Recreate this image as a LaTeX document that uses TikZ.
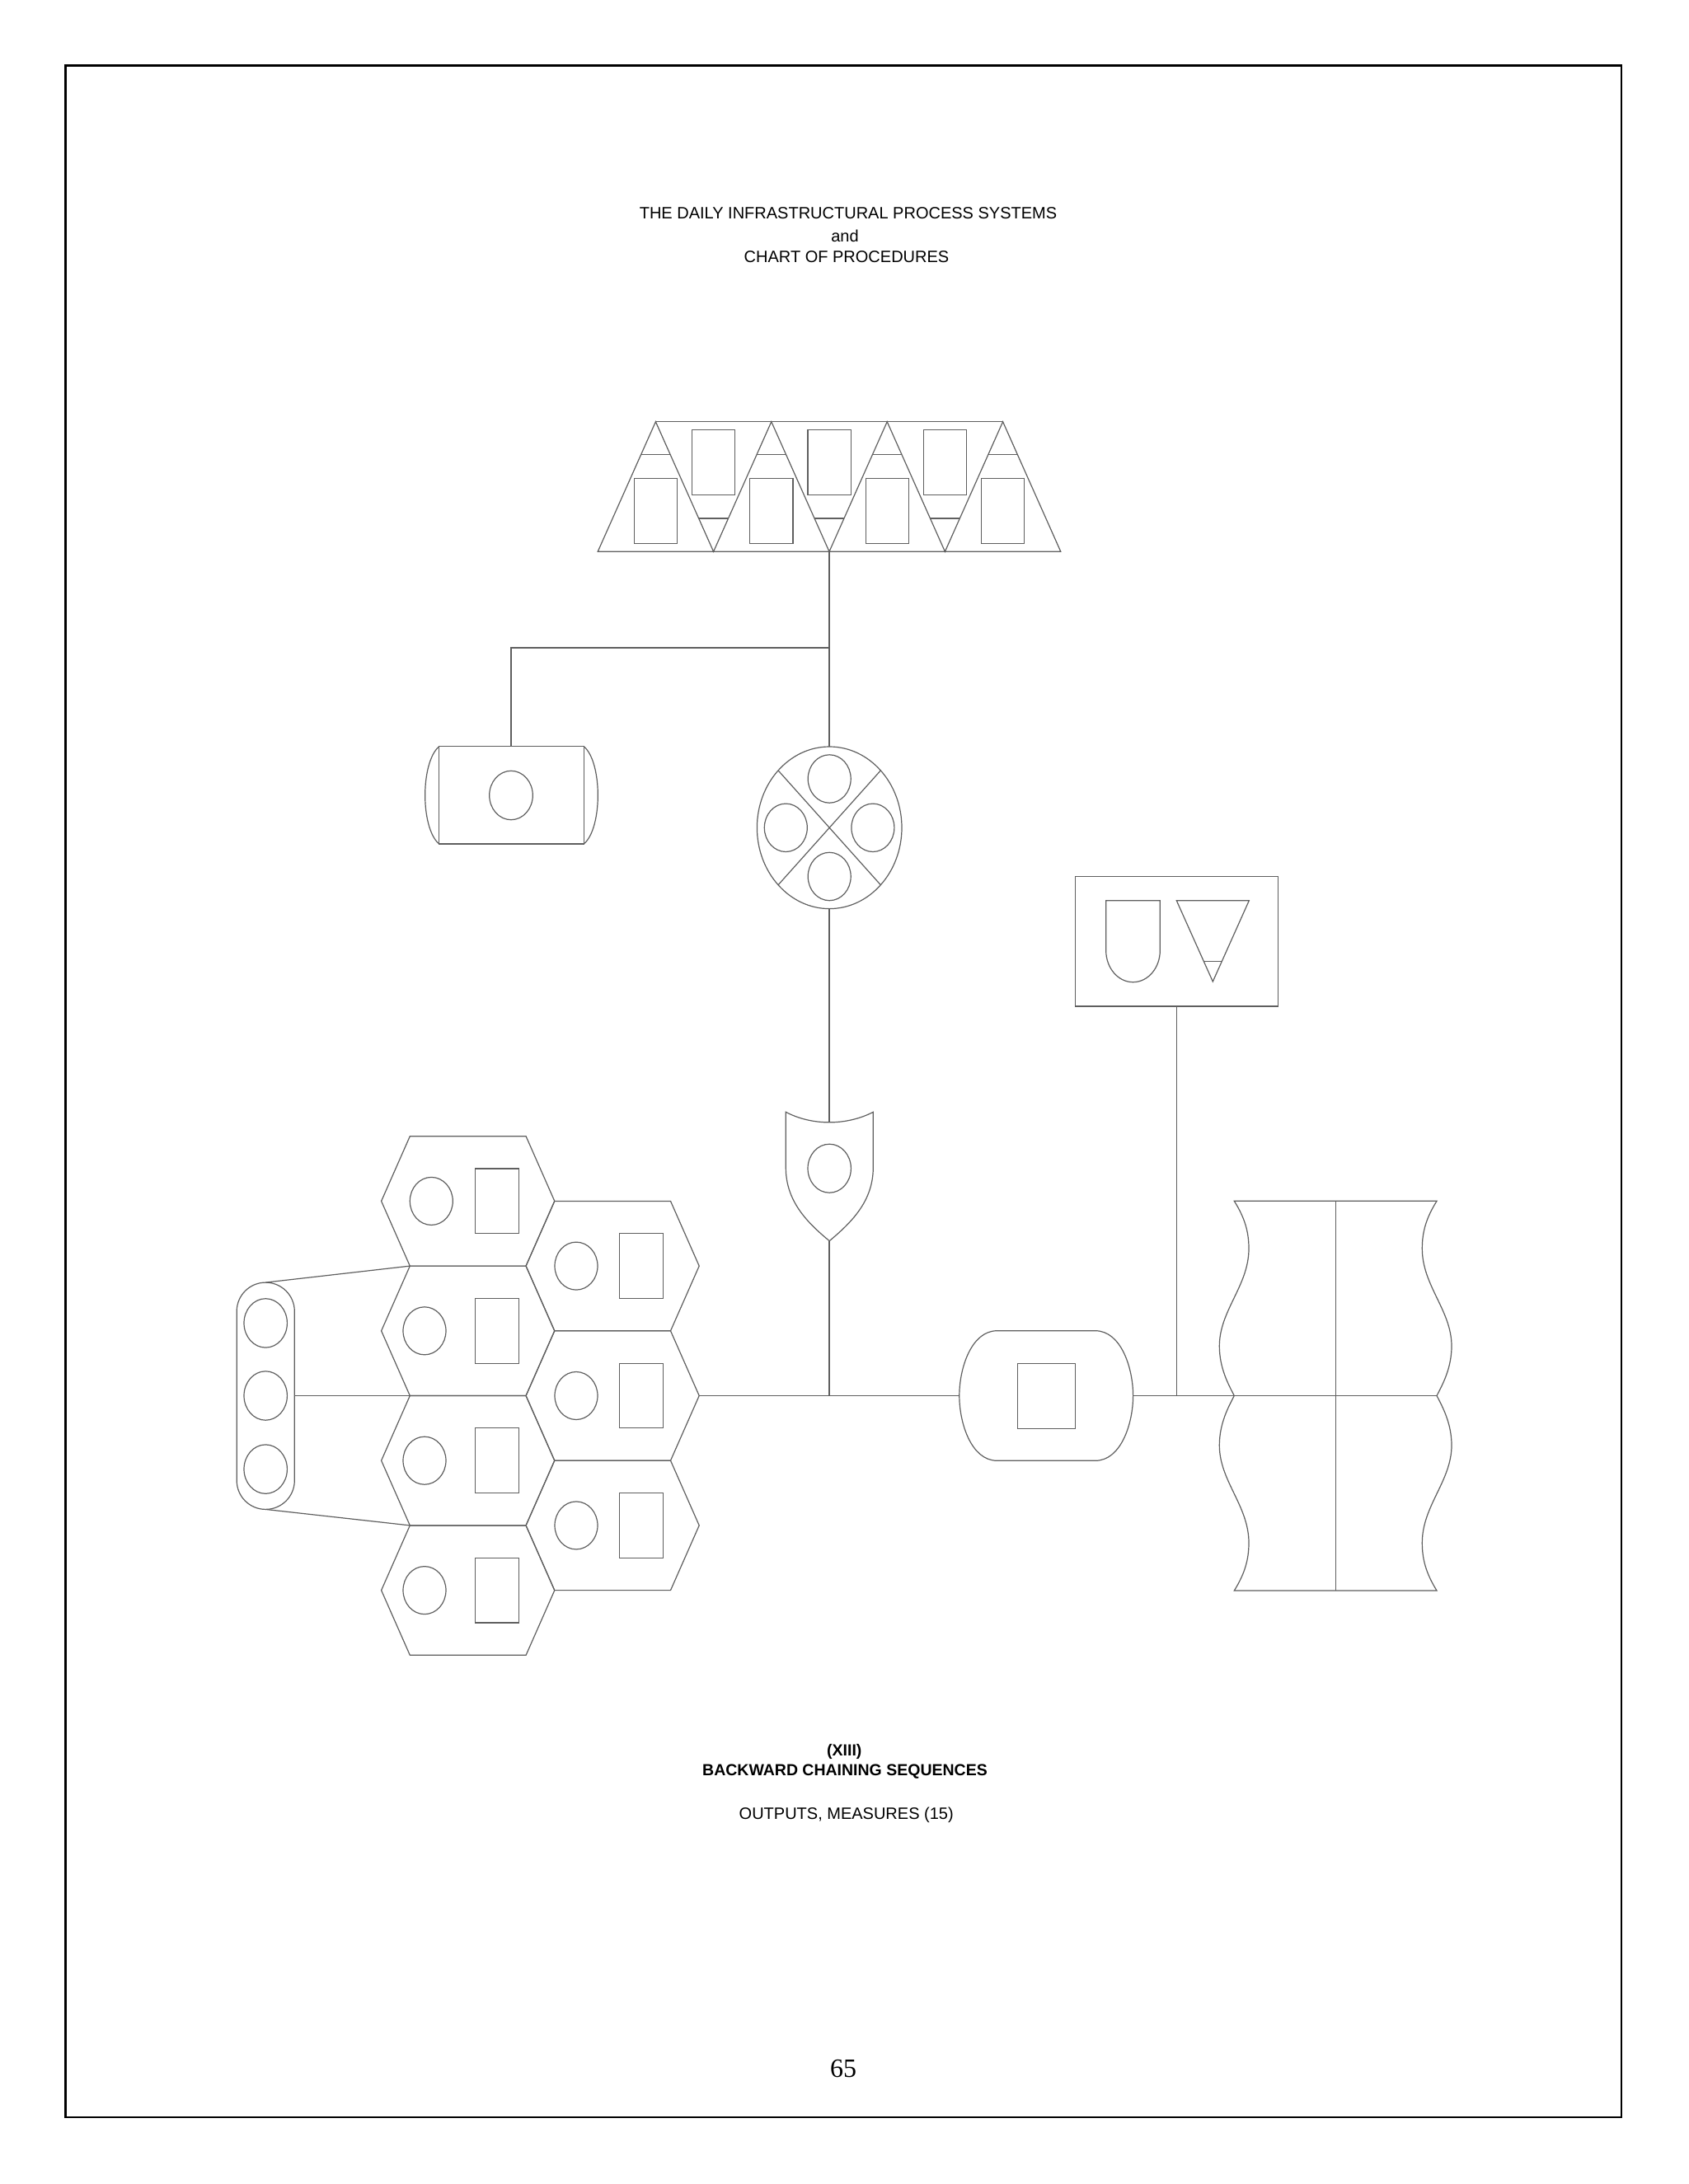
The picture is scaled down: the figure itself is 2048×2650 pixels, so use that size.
\documentclass[tikz,border=0pt]{standalone}
\usepackage{fontspec}
\setmainfont{Liberation Sans}
\newfontfamily\pagefont{Liberation Serif}
\definecolor{ln}{RGB}{95,95,95}
\begin{document}
\begin{tikzpicture}[x=1pt,y=-1pt,
  shp/.style={draw=ln, line width=1.2pt},
  conn/.style={draw=ln, line width=1.2pt},
  pageframe/.style={draw=black, line width=2.2pt},
  txt/.style={anchor=base, inner sep=0pt, font=\fontsize{20}{24}\selectfont},
  btxt/.style={anchor=base, inner sep=0pt, font=\fontsize{19.5}{24}\selectfont\bfseries},
  pnum/.style={anchor=base, inner sep=0pt, font=\pagefont\fontsize{32}{36}\selectfont}]

\useasboundingbox (0,0) rectangle (2048,2650);
\fill[white] (0,0) rectangle (2048,2650);
\draw[pageframe] (79.5,79.5) rectangle (1967,2569);

% texts
\node[txt] (t1) at (1029,265.3) {THE DAILY INFRASTRUCTURAL PROCESS SYSTEMS};
\node[txt] (t2) at (1025,293.3) {and};
\node[txt] (t3) at (1027,318.3) {CHART OF PROCEDURES};
\node[btxt] (b1) at (1024.3,2130) {(XIII)};
\node[btxt] (b2) at (1025,2154) {BACKWARD CHAINING SEQUENCES};
\node[txt] (b3) at (1026.7,2207.3) {OUTPUTS, MEASURES (15)};
\node[pnum] (pg) at (1023,2520.7) {65};

% ---------- triangle banner ----------
\draw[shp] (725.2,669.3) -- (795.4,511.7) -- (865.6,669.3) -- (935.8,511.7) -- (1006,669.3)
  -- (1076.2,511.7) -- (1146.4,669.3) -- (1216.6,511.7) -- (1286.8,669.3) -- cycle;
\draw[shp] (795.4,511.7) -- (1216.6,511.7);
\foreach \ax in {795.4,935.8,1076.2,1216.6}{
  \draw[shp] (\ax-17.8,551.7) -- (\ax+17.8,551.7);
  \draw[shp] (\ax-26.1,580.3) rectangle (\ax+26.1,659.3);
}
\foreach \bx in {865.6,1006,1146.4}{
  \draw[shp] (\bx-17.9,629) -- (\bx+17.9,629);
  \draw[shp] (\bx-26.1,521.3) rectangle (\bx+26.1,600.3);
}

% ---------- cylinder ----------
\draw[shp] (532.7,905.7) rectangle (708.3,1024);
\draw[shp] (532.7,905.7) .. controls (510,925) and (510,1005) .. (532.7,1024);
\draw[shp] (708.3,905.7) .. controls (731,925) and (731,1005) .. (708.3,1024);
\draw[shp] (620,965) ellipse [x radius=26.3, y radius=29.7];

% ---------- circle with X ----------
\draw[shp] (1006.2,1004.3) ellipse [x radius=87.8, y radius=98.3];
\draw[shp] (944,934.8) -- (1068.4,1073.8);
\draw[shp] (1068.4,934.8) -- (944,1073.8);
\foreach \px/\py in {1006.2/945, 953.3/1004.3, 1058.9/1004.3, 1006.2/1063.5}{
  \draw[shp] (\px,\py) ellipse [x radius=26, y radius=29.2];
}

% ---------- shield ----------
\draw[shp] (953.3,1349.3) .. controls (985,1366) and (1027,1366) .. (1059.3,1349.3)
  -- (1059.3,1416.7) .. controls (1059.3,1458) and (1032,1484) .. (1006.2,1505.7)
  .. controls (980,1484) and (953.3,1458) .. (953.3,1416.7) -- cycle;
\draw[shp] (1006.2,1417.7) ellipse [x radius=26.2, y radius=29.5];

% ---------- top-right box ----------
\draw[shp] (1304.3,1063.3) rectangle (1550.7,1221);
\draw[shp] (1341.7,1153.3) -- (1341.7,1092.7) -- (1407.3,1092.7) -- (1407.3,1153.3)
  .. controls (1407.3,1174.5) and (1392.6,1191.7) .. (1374.5,1191.7)
  .. controls (1356.4,1191.7) and (1341.7,1174.5) .. (1341.7,1153.3);
\draw[shp] (1427.3,1092.7) -- (1515.3,1092.7) -- (1471.3,1191) -- cycle;
\draw[shp] (1460.3,1166.3) -- (1482.3,1166.3);

% ---------- rounded box ----------
\draw[shp] (1209.6,1614.7) -- (1328.8,1614.7)
  .. controls (1360,1614.7) and (1374.6,1660) .. (1374.6,1693.5)
  .. controls (1374.6,1727) and (1360,1772.3) .. (1328.8,1772.3)
  -- (1209.6,1772.3)
  .. controls (1178.4,1772.3) and (1163.8,1727) .. (1163.8,1693.5)
  .. controls (1163.8,1660) and (1178.4,1614.7) .. cycle;
\draw[shp] (1234.2,1654.3) rectangle (1304.6,1733.3);

% ---------- vase ----------
\draw[shp] (1497.3,1457.3) -- (1743,1457.3)
  .. controls (1730,1478) and (1725.3,1495) .. (1725.3,1515)
  .. controls (1725.3,1560) and (1761,1590) .. (1761,1633.3)
  .. controls (1761,1660) and (1750,1680) .. (1743,1693.5)
  .. controls (1750,1707) and (1761,1727) .. (1761,1753.7)
  .. controls (1761,1797) and (1725.3,1827) .. (1725.3,1872)
  .. controls (1725.3,1892) and (1730,1909) .. (1743,1930)
  -- (1497.3,1930)
  .. controls (1510.3,1909) and (1515,1892) .. (1515,1872)
  .. controls (1515,1827) and (1479.3,1797) .. (1479.3,1753.7)
  .. controls (1479.3,1727) and (1490.3,1707) .. (1497.3,1693.5)
  .. controls (1490.3,1680) and (1479.3,1660) .. (1479.3,1633.3)
  .. controls (1479.3,1590) and (1515,1560) .. (1515,1515)
  .. controls (1515,1495) and (1510.3,1478) .. (1497.3,1457.3) -- cycle;
\draw[shp] (1497.3,1693.5) -- (1743,1693.5);
\draw[shp] (1620.2,1457.3) -- (1620.2,1930);

% ---------- hexagon cluster ----------
\foreach \cx/\cy in {567.7/1457.4, 567.7/1614.8, 567.7/1772.2, 567.7/1929.6,
                     743.1/1536.1, 743.1/1693.5, 743.1/1850.9}{
  \draw[shp] (\cx-105.1,\cy) -- (\cx-70.4,\cy-78.7) -- (\cx+70.4,\cy-78.7)
    -- (\cx+105.1,\cy) -- (\cx+70.4,\cy+78.7) -- (\cx-70.4,\cy+78.7) -- cycle;
}
\foreach \ccx/\cy/\rcx in {523.3/1457.4/602.8, 515/1614.8/602.8, 515/1772.2/602.8, 515/1929.6/602.8,
                          699/1536.1/778, 699/1693.5/778, 699/1850.9/778}{
  \draw[shp] (\ccx,\cy) ellipse [x radius=26, y radius=29];
  \draw[shp] (\rcx-26.6,\cy-39.35) rectangle (\rcx+26.6,\cy+39.35);
}

% ---------- pill ----------
\draw[shp, rounded corners=35pt] (287.2,1556.1) rectangle (357.3,1831.4);
\foreach \py in {1605.4,1693.5,1782.6}{
  \draw[shp] (322.2,\py) ellipse [x radius=26.2, y radius=29.7];
}

% ---------- connector points ----------
\coordinate (bannerB) at (1006,669.3);
\coordinate (junc) at (1006,786);
\coordinate (cylT) at (620,905.7);
\coordinate (cxT) at (1006,906);
\coordinate (cxB) at (1006,1102.6);
\coordinate (shT) at (1006,1361.7);
\coordinate (shB) at (1006,1505.7);
\coordinate (mainJ) at (1006,1693.5);
\coordinate (hexR) at (848.2,1693.5);
\coordinate (rbL) at (1163.8,1693.5);
\coordinate (rbR) at (1374.6,1693.5);
\coordinate (boxB) at (1427.3,1221);
\coordinate (boxJ) at (1427.3,1693.5);
\coordinate (vaseL) at (1497.3,1693.5);
\coordinate (pillT) at (322.2,1556.1);
\coordinate (pillR) at (357.3,1693.5);
\coordinate (pillB) at (322.2,1831.4);
\coordinate (hexA) at (497.3,1536.1);
\coordinate (hexM) at (497.3,1693.5);
\coordinate (hexB) at (497.3,1850.9);

% ---------- connectors ----------
\draw[conn] (bannerB) -- (cxT);
\draw[conn] (junc) -| (cylT);
\draw[conn] (cxB) -- (shT);
\draw[conn] (shB) -- (mainJ);
\draw[conn] (hexR) -- (rbL);
\draw[conn] (rbR) -- (vaseL);
\draw[conn] (boxB) -- (boxJ);
\draw[conn] (pillT) -- (hexA);
\draw[conn] (pillR) -- (hexM);
\draw[conn] (pillB) -- (hexB);
\end{tikzpicture}
\end{document}
